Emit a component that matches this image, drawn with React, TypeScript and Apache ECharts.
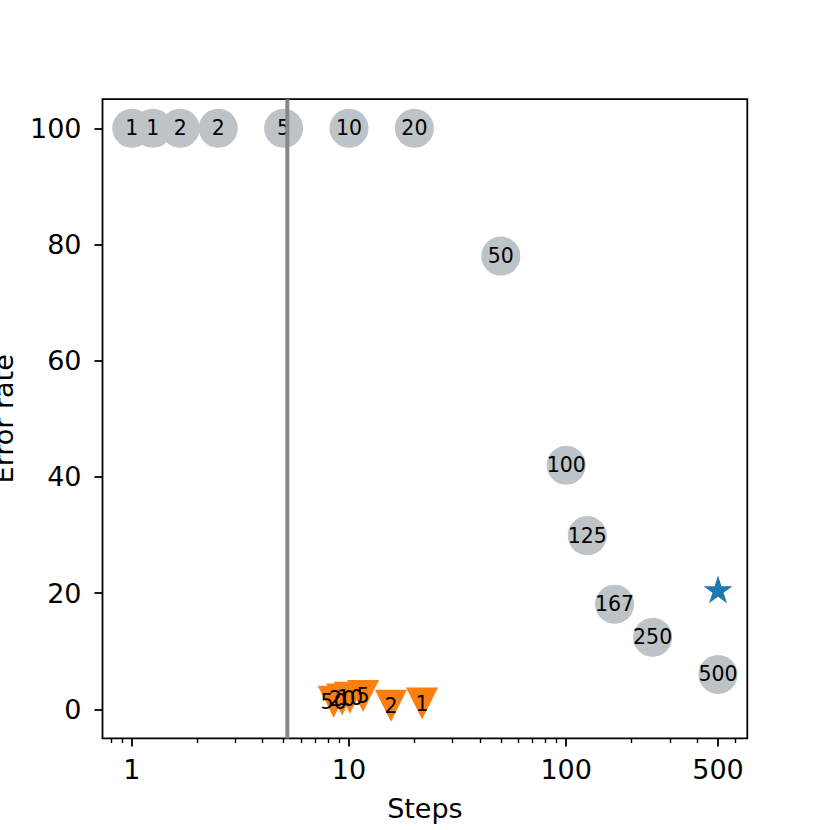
import React, { useEffect, useRef } from "react";
import * as echarts from "echarts";

// Grey circles: steps vs error rate, labelled
const circleSteps = [1, 1.25, 1.67, 2.5, 5, 10, 20, 50, 100, 125, 167, 250, 500];
const circleError = [100, 100, 100, 100, 100, 100, 100, 78, 42, 29.9, 18.1, 12.4, 6.0];
const circleLabels = ["1", "1", "2", "2", "5", "10", "20", "50", "100", "125", "167", "250", "500"];

// Orange triangles
const triSteps = [8.5, 9.3, 10.1, 11.6, 15.6, 21.7];
const triError = [1.3, 1.7, 2.0, 2.3, 0.6, 1.0];
const triLabels = ["50", "20", "10", "5", "2", "1"];

// Blue star
const starSteps = [500];
const starError = [20.4];

// Vertical reference line
const vlineStep = 5.2;

// Axes
const xMajorTicks = [1, 10, 100, 500];
const xMinorTicks = [0.8, 0.9, 2, 3, 4, 5, 6, 7, 8, 9, 20, 30, 40, 50, 60, 70, 80, 90, 200, 300, 400, 600];
const yTicks = [0, 20, 40, 60, 80, 100];
const xMin = 0.733;
const xMax = 682;
const yMin = -5;
const yMax = 105;

function starPath(): string {
  const pts: string[] = [];
  for (let k = 0; k < 10; k++) {
    const ang = (-90 + 36 * k) * Math.PI / 180;
    const r = k % 2 === 0 ? 100 : 38.2;
    const x = 100 + r * Math.cos(ang);
    const y = 100 + r * Math.sin(ang);
    pts.push((k === 0 ? "M" : "L") + x.toFixed(2) + " " + y.toFixed(2));
  }
  return "path://" + pts.join(" ") + " Z";
}

const FONT = "DejaVu Sans";

export default function App() {
  const ref = useRef<HTMLDivElement>(null);
  useEffect(() => {
    if (!ref.current) return;
    const chart = echarts.init(ref.current, undefined, { renderer: "svg" });
    const labelStyle = {
      show: true,
      position: "inside" as const,
      color: "#000",
      fontSize: 20.5,
      fontFamily: FONT,
    };
    chart.setOption({
      animation: false,
      backgroundColor: "#fff",
      grid: {
        left: 102.5,
        top: 99.2,
        right: 82.7,
        bottom: 91.6,
        show: true,
        borderColor: "#000",
        borderWidth: 1.8,
        backgroundColor: "transparent",
        containLabel: false,
        outerBoundsMode: "none",
      },
      xAxis: [
        {
          type: "log",
          min: xMin,
          max: xMax,
          name: "Steps",
          nameLocation: "middle",
          nameGap: 57,
          nameTextStyle: { color: "#000", fontSize: 27, fontFamily: FONT },
          axisLine: { show: false, onZero: false },
          splitLine: { show: false },
          axisTick: {
            show: true,
            length: 8,
            lineStyle: { color: "#000", width: 1.8 },
            customValues: xMajorTicks,
          },
          axisLabel: {
            color: "#000",
            fontSize: 27,
            fontFamily: FONT,
            margin: 18,
            customValues: xMajorTicks,
            formatter: (v: number) => String(Math.round(v)),
          },
        },
        {
          type: "log",
          min: xMin,
          max: xMax,
          position: "bottom",
          axisLine: { show: false, onZero: false },
          splitLine: { show: false },
          axisLabel: { show: false },
          axisTick: {
            show: true,
            length: 4.6,
            lineStyle: { color: "#000", width: 1.4 },
            customValues: xMinorTicks,
          },
        },
      ],
      yAxis: {
        type: "value",
        min: yMin,
        max: yMax,
        name: "Error rate",
        nameLocation: "middle",
        nameGap: 86,
        nameTextStyle: { color: "#000", fontSize: 27, fontFamily: FONT },
        axisLine: { show: false, onZero: false },
        splitLine: { show: false },
        axisTick: {
          show: true,
          length: 8,
          lineStyle: { color: "#000", width: 1.8 },
          customValues: yTicks,
        },
        axisLabel: {
          color: "#000",
          fontSize: 27,
          fontFamily: FONT,
          margin: 21,
          customValues: yTicks,
        },
      },
      series: [
        {
          type: "scatter",
          symbol: "circle",
          symbolSize: 39,
          itemStyle: { color: "#bdc3c7", opacity: 1 },
          data: circleSteps.map((s, i) => [s, circleError[i]]),
          label: { ...labelStyle, formatter: (p: any) => circleLabels[p.dataIndex] },
          z: 2,
        },
        {
          type: "scatter",
          symbol: "triangle",
          symbolRotate: 180,
          symbolSize: 32,
          itemStyle: { color: "#ff7f0e", opacity: 1 },
          data: triSteps.map((s, i) => [s, triError[i]]),
          label: { ...labelStyle, formatter: (p: any) => triLabels[p.dataIndex] },
          z: 2,
        },
        {
          type: "scatter",
          symbol: starPath(),
          symbolSize: [29, 27.6],
          symbolOffset: [0, -1.4],
          itemStyle: { color: "#1f77b4", opacity: 1 },
          data: starSteps.map((s, i) => [s, starError[i]]),
          z: 2,
        },
        {
          type: "line",
          data: [[vlineStep, yMin], [vlineStep, yMax]],
          symbol: "none",
          lineStyle: { color: "#888888", width: 4 },
          silent: true,
          z: 5,
        },
      ],
    });
    return () => chart.dispose();
  }, []);
  return (
    <div
      ref={ref}
      style={{ position: "fixed", left: 0, top: 0, width: 830, height: 830, background: "#fff" }}
    />
  );
}
